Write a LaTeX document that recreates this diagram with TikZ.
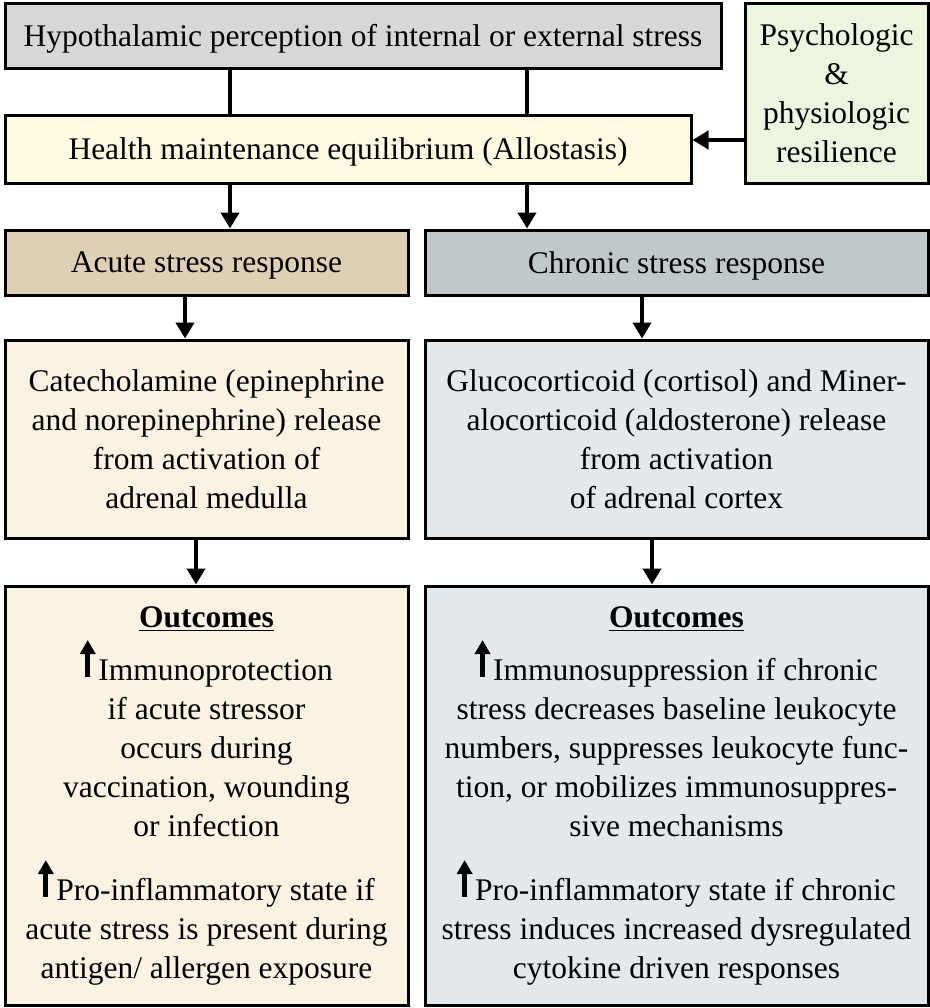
\documentclass[tikz,border=0pt]{standalone}
\usepackage{fontspec}
\setmainfont{Liberation Serif}
\usetikzlibrary{arrows.meta}

\definecolor{hypogray}{RGB}{216,214,217}
\definecolor{resilgreen}{RGB}{236,245,224}
\definecolor{alloyellow}{RGB}{255,251,226}
\definecolor{acutetan}{RGB}{223,207,181}
\definecolor{chronicgray}{RGB}{193,200,203}
\definecolor{acutecream}{RGB}{250,243,228}
\definecolor{chronicpale}{RGB}{226,232,236}

\newcommand{\incarrow}{\smash{\tikz[baseline=-1.5pt, x=1pt, y=1pt]
  \draw[line width=2.6pt, -{Triangle[length=7pt, width=7.5pt]}] (0,0) -- (0,18.5);}\hspace{1.5pt}}

\begin{document}
\begin{tikzpicture}[x=0.5pt, y=-0.5pt, >={Triangle[length=8pt, width=9pt]},
    box/.style={draw, line width=1.5pt, align=center, inner sep=0pt,
      font=\fontsize{15.75pt}{19.5pt}\selectfont},
    single/.style={text depth=0pt},
    link/.style={line width=2pt}]
    \useasboundingbox (0,0) rectangle (930,1008);

    \node[box, single, fill=hypogray, minimum width=358pt, minimum height=32.5pt] (hypo) at (363,35.5)
      {Hypothalamic perception of internal or external stress};
    \node[box, fill=resilgreen, minimum width=91.5pt, minimum height=90pt] (resil) at (836.5,93)
      {Psychologic\\ \&\\ physiologic\\ resilience};
    \node[box, single, fill=alloyellow, minimum width=343pt, minimum height=34pt] (allo) at (348,149)
      {Health maintenance equilibrium (Allostasis)};

    \node[box, single, fill=acutetan, minimum width=201.5pt, minimum height=32.5pt] (acute) at (206.5,262.5)
      {Acute stress response};
    \node[box, single, fill=chronicgray, minimum width=251.5pt, minimum height=32.5pt] (chronic) at (676.5,262.5)
      {Chronic stress response};

    \node[box, fill=acutecream, minimum width=201.5pt, minimum height=99pt] (catechol) at (206.5,439)
      {Catecholamine (epinephrine\\ and norepinephrine) release\\ from activation of\\ adrenal medulla};
    \node[box, fill=chronicpale, minimum width=251.5pt, minimum height=99pt] (gluco) at (676.5,439)
      {Glucocorticoid (cortisol) and Miner-\\ alocorticoid (aldosterone) release\\ from activation\\ of adrenal cortex};

    \node[box, fill=acutecream, minimum width=201.5pt, minimum height=209.5pt] (out-acute) at (206.5,795.5)
      {\underline{\textbf{Outcomes}}\\[7pt]
       \incarrow Immunoprotection\\ if acute stressor\\ occurs during\\ vaccination, wounding\\ or infection\\[12.5pt]
       \incarrow Pro-inflammatory state if\\ acute stress is present during\\ antigen/ allergen exposure};
    \node[box, fill=chronicpale, minimum width=251.5pt, minimum height=209.5pt] (out-chronic) at (676.5,795.5)
      {\underline{\textbf{Outcomes}}\\[7pt]
       \incarrow Immunosuppression if chronic\\ stress decreases baseline leukocyte\\ numbers, suppresses leukocyte func-\\ tion, or mobilizes immunosuppres-\\ sive mechanisms\\[12.5pt]
       \incarrow Pro-inflammatory state if chronic\\ stress induces increased dysregulated\\ cytokine driven responses};

    \path (230,0) coordinate (c1) (527,0) coordinate (c2) (185,0) coordinate (c3)
          (642,0) coordinate (c4) (196,0) coordinate (c5) (652,0) coordinate (c6)
          (0,140) coordinate (c7);

    \draw[link] (hypo.south -| c1) -- (allo.north -| c1);
    \draw[link] (hypo.south -| c2) -- (allo.north -| c2);
    \draw[link, ->] (resil.west |- c7) -- (allo.east |- c7);

    \draw[link, ->] (allo.south -| c1) -- (acute.north -| c1);
    \draw[link, ->] (allo.south -| c2) -- (chronic.north -| c2);
    \draw[link, ->] (acute.south -| c3) -- (catechol.north -| c3);
    \draw[link, ->] (chronic.south -| c4) -- (gluco.north -| c4);
    \draw[link, ->] (catechol.south -| c5) -- (out-acute.north -| c5);
    \draw[link, ->] (gluco.south -| c6) -- (out-chronic.north -| c6);
\end{tikzpicture}
\end{document}
